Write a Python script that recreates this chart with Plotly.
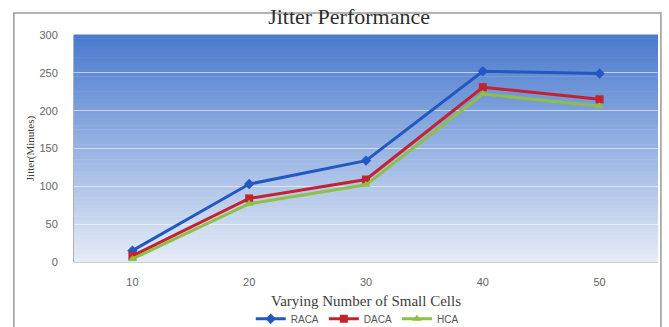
import plotly.graph_objects as go

categories = ["10", "20", "30", "40", "50"]
raca = [15, 103, 134, 252, 249]
daca = [8, 84, 109, 231, 215]
hca = [4, 77, 102, 222, 206]
y_ticks = [0, 50, 100, 150, 200, 250, 300]

fig = go.Figure()

series = [
    ("RACA", raca, "#2358c0", "diamond"),
    ("DACA", daca, "#c4222c", "square"),
    ("HCA", hca, "#8dc043", "triangle-up"),
]
for name, vals, col, sym in series:
    fig.add_trace(go.Scatter(
        x=categories, y=vals, name=name, mode="lines+markers",
        line=dict(color=col, width=3),
        marker=dict(symbol=sym, size=8, color=col),
    ))

# gradient background bands
shapes = []
n = 60
top = (74, 122, 206)
bottom = (228, 235, 247)
for i in range(n):
    t = i / (n - 1)
    c = tuple(int(round(top[k] + (bottom[k] - top[k]) * t)) for k in range(3))
    y1 = 1 - i / n
    y0 = 1 - (i + 1) / n
    shapes.append(dict(type="rect", xref="x domain", yref="y domain",
                       x0=0, x1=1, y0=y0, y1=y1 + 0.002, line=dict(width=0),
                       fillcolor="rgb(%d,%d,%d)" % c, layer="below"))
# outer border (paper coords are relative to plot area: x 74..658, y 35..262)
shapes.append(dict(type="rect", xref="paper", yref="paper", x0=-0.103, x1=1.005,
                   y0=-0.32, y1=1.097, line=dict(color="#9a9a9a", width=1.5),
                   fillcolor="rgba(0,0,0,0)", layer="below"))
fig.update_layout(shapes=shapes)

fig.update_layout(
    width=669, height=327,
    margin=dict(l=74, r=11, t=35, b=65, autoexpand=False),
    paper_bgcolor="white",
    plot_bgcolor="#e2eaf7",
    title=dict(text="Jitter Performance", x=0.471, xanchor="center", xref="paper",
               yref="container", y=0.975, yanchor="top",
               font=dict(family="Liberation Serif", size=22, color="#2e2e2e")),
    xaxis=dict(type="category", range=[-0.5, 4.5], showgrid=False, automargin=False,
               showline=True, linecolor="#d0d0d0", ticks="outside", ticklen=10,
               tickcolor="rgba(0,0,0,0)",
               tickfont=dict(family="Liberation Sans", size=11, color="#666666"),
               title=dict(text="Varying Number of Small Cells", standoff=8,
                          font=dict(family="Liberation Serif", size=15, color="#404040"))),
    yaxis=dict(range=[0, 300], tickvals=y_ticks, showgrid=True, automargin=False,
               gridcolor="rgba(255,255,255,0.55)", gridwidth=1, zeroline=False,
               showline=True, linecolor="#b0b0b0", ticks="outside", ticklen=13,
               tickcolor="rgba(0,0,0,0)",
               tickfont=dict(family="Liberation Sans", size=11, color="#666666"),
               title=dict(text="Jitter(Minutes)", standoff=2,
                          font=dict(family="Liberation Serif", size=11, color="#404040"))),
    legend=dict(orientation="h", x=0.485, xanchor="center", y=-0.25, yanchor="middle",
                font=dict(family="Liberation Sans", size=10, color="#555555"),
                itemwidth=30, tracegroupgap=0, bgcolor="rgba(0,0,0,0)"),
    showlegend=True,
)

fig.write_html("out.html", config={"displayModeBar": False},
               post_script="document.body.style.margin='0';document.body.style.padding='0';")
